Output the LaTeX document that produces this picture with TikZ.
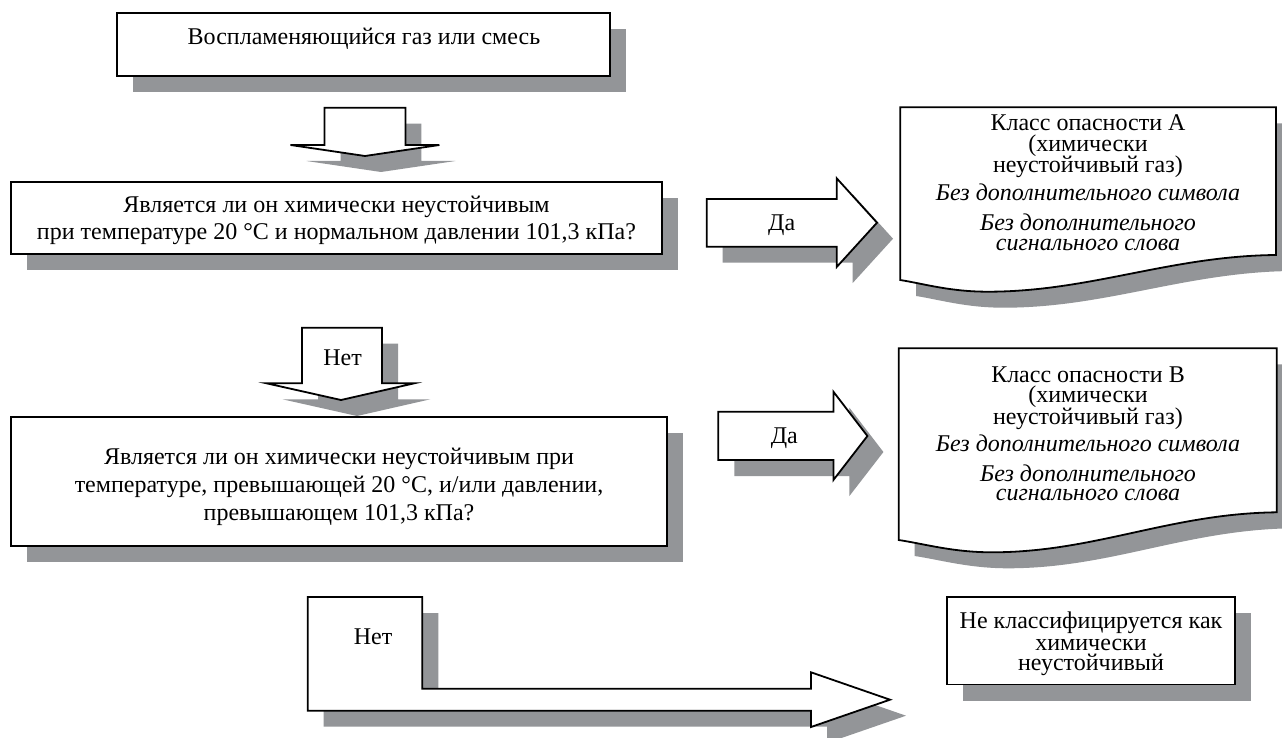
\documentclass[tikz,border=0pt]{standalone}
\usepackage{fontspec}
\setmainfont{Liberation Serif}
\usetikzlibrary{shadows}
\definecolor{shadowgray}{RGB}{147,149,152}
\tikzset{
  outline/.style={fill=white,draw=black,line width=1.8pt,line join=miter,miter limit=10},
  boxnode/.style={rectangle,outline,inner sep=0pt,
    drop shadow={shadow xshift=16pt,shadow yshift=-16pt,fill=shadowgray,opacity=1}},
  ln/.style={anchor=base,inner sep=0pt,font=\fontsize{24}{26}\selectfont},
  itl/.style={anchor=base,inner sep=0pt,font=\fontsize{24}{26}\selectfont\itshape},
  pDownA/.style={insert path={(324.5,107.7) -- (405.4,107.7) -- (405.4,145) -- (439.4,145) -- (365,156) -- (290.5,145) -- (324.5,145) -- cycle}},
  pDownB/.style={insert path={(302,327.7) -- (382,327.7) -- (382,383.3) -- (414.3,383.3) -- (341,400) -- (266.5,383.3) -- (302,383.3) -- cycle}},
  pBent/.style={insert path={(307.7,597) -- (422.3,597) -- (422.3,688.7) -- (811,688.7) -- (811,672.3) -- (890,699.7) -- (811,727) -- (811,710.7) -- (307.7,710.7) -- cycle}},
  pYesA/.style={insert path={(706.7,199) -- (836.7,199) -- (836.7,178.3) -- (877,222.7) -- (836.7,267) -- (836.7,246.7) -- (706.7,246.7) -- cycle}},
  pYesB/.style={insert path={(718.3,411.7) -- (833.4,411.7) -- (833.4,391.7) -- (867.4,436) -- (833.4,480) -- (833.4,460) -- (718.3,460) -- cycle}},
  pDocA/.style={insert path={(900.2,107.3) -- (1276,107.3) -- (1276,255) .. controls (1170,256) and (1090,291.7) .. (988,291.7) .. controls (950,291.7) and (925,284) .. (900.2,280) -- cycle}},
  pDocB/.style={insert path={(898.7,348.3) -- (1276.8,348.3) -- (1276.8,512.3) .. controls (1170,513.5) and (1095,552.3) .. (992,552.3) .. controls (953,552.3) and (925,544) .. (898.7,540) -- cycle}},
}
\newcommand{\shadowedshape}[1]{%
  \fill[shadowgray,shift={(16,16)},#1];
  \draw[outline,#1];}
\begin{document}
\begin{tikzpicture}[x=1pt,y=-1pt]
\useasboundingbox (0,0) rectangle (1282,738);
\fill[white] (0,0) rectangle (1282,738);

% boxes
\node[boxnode,minimum width=493pt,minimum height=63.3pt] (top) at (363.5,44.35) {};
\node[boxnode,minimum width=651pt,minimum height=72.3pt] (q1) at (336.5,217.85) {};
\node[boxnode,minimum width=656pt,minimum height=128.7pt] (q2) at (339,481.65) {};
\node[boxnode,minimum width=288.6pt,minimum height=87.5pt] (nc) at (1091,640.75) {};

% block arrows and documents
\shadowedshape{pDownA}
\shadowedshape{pDownB}
\shadowedshape{pBent}
\shadowedshape{pYesA}
\shadowedshape{pYesB}
\shadowedshape{pDocA}
\shadowedshape{pDocB}

% texts
\node[ln] (t0) at (364,44.3) {Воспламеняющийся газ или смесь};
\node[ln] (t1a) at (336.5,213) {Является ли он химически неустойчивым};
\node[ln] (t1b) at (336.5,240) {при температуре 20 °C и нормальном давлении 101,3 кПа?};
\node[ln] (t2a) at (339,464) {Является ли он химически неустойчивым при};
\node[ln] (t2b) at (339,492) {температуре, превышающей 20 °C, и/или давлении,};
\node[ln] (t2c) at (339,520) {превышающем 101,3 кПа?};
\node[ln] (no1) at (342.6,365) {Нет};
\node[ln] (no2) at (373,644.7) {Нет};
\node[ln] (yes1) at (781.7,230) {Да};
\node[ln] (yes2) at (784.3,443.3) {Да};
\node[ln] (n1) at (1091,628.3) {Не классифицируется как};
\node[ln] (n2) at (1091,650) {химически};
\node[ln] (n3) at (1091,670.7) {неустойчивый};
\node[ln] (a1) at (1088,130.7) {Класс опасности А};
\node[ln] (a2) at (1088,151.7) {(химически};
\node[ln] (a3) at (1088,172.7) {неустойчивый газ)};
\node[itl] (a4) at (1088,200.7) {Без дополнительного символа};
\node[itl] (a5) at (1088,230.7) {Без дополнительного};
\node[itl] (a6) at (1088,250) {сигнального слова};
\node[ln] (b1) at (1088,382.3) {Класс опасности B};
\node[ln] (b2) at (1088,402.7) {(химически};
\node[ln] (b3) at (1088,424) {неустойчивый газ)};
\node[itl] (b4) at (1088,451.7) {Без дополнительного символа};
\node[itl] (b5) at (1088,481.7) {Без дополнительного};
\node[itl] (b6) at (1088,500) {сигнального слова};
\end{tikzpicture}
\end{document}
